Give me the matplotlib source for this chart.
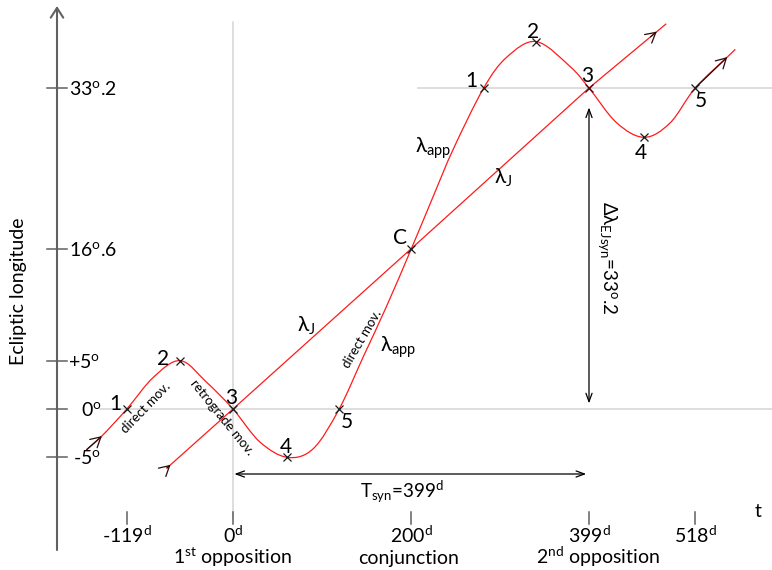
import numpy as np
import matplotlib
matplotlib.use("Agg")
import matplotlib.pyplot as plt
import matplotlib.transforms as mtransforms
from matplotlib.path import Path
from matplotlib.patches import PathPatch

# days counted from the 1st opposition, ecliptic longitude in degrees
t_app = [-164, -147, -119, -89, -59, -30, 0, 30, 61, 90, 119, 146, 172, 200,
         224, 247, 281, 307, 340, 378, 399, 430, 461, 490, 518, 554, 563]
lam_app = [-4.2, -2.8, 0, 3.3, 5.0, 2.8, 0, -3.4, -5.0, -4.1, 0, 5.4, 10.6, 16.6,
           21.9, 26.9, 33.2, 36.4, 38.0, 35.4, 33.2, 29.6, 28.1, 29.6, 33.2, 36.4, 37.2]

t_J = [-74, 0, 200, 399, 485]
lam_J = [-6.1, 0, 16.6, 33.2, 39.8]

# marked positions 1..5, C, 1..5
t_pts = [-119, -59, 0, 61, 119, 200, 281, 340, 399, 461, 518]
lam_pts = [0, 5.0, 0, -5.0, 0, 16.6, 33.2, 38.0, 33.2, 28.1, 33.2]
pt_labels = ['1', '2', '3', '4', '5', 'C', '1', '2', '3', '4', '5']
pt_offsets = [(-11, -1), (-17, -4), (-2, 5), (-2, 4), (8, -19), (-11, 5),
              (-12, 1), (-3, 4), (-2, 6), (-3, -22), (6, -19)]

x_ticks = [-119, 0, 200, 399, 518]
x_ticklabels = ['-119$^{\\rm d}$', '0$^{\\rm d}$', '200$^{\\rm d}$', '399$^{\\rm d}$', '518$^{\\rm d}$']
events = [(0, '1$^{\\rm st}$ opposition', 0), (200, 'conjunction', -3), (399, '2$^{\\rm nd}$ opposition', 9)]

y_ticks = [33.2, 16.6, 5, 0, -5]
y_ticklabels = ['33$^{\\rm o}$.2', '16$^{\\rm o}$.6', '+5$^{\\rm o}$', '0$^{\\rm o}$', '-5$^{\\rm o}$']
y_label_dx = [12, 12, 11, 24, 16]

T_SYN = 399
D_LAM = 33.2

plt.rcParams['font.family'] = ['Lato', 'DejaVu Sans']
plt.rcParams['mathtext.fontset'] = 'custom'
plt.rcParams['mathtext.rm'] = 'Lato'
plt.rcParams['mathtext.it'] = 'Lato:italic'
plt.rcParams['mathtext.bf'] = 'Lato:bold'

W, H = 772, 570
X0, Y0 = 233, 409                     # pixel of (0 d, 0 deg)
PX_DAY = 356 / 399
PX_DEG = 321 / 33.2
T_AXIS = (57 - X0) / PX_DAY           # where the longitude axis sits
L_AXIS = (Y0 - 518) / PX_DEG          # where the time axis sits

fig = plt.figure(figsize=(W / 100, H / 100), dpi=100)
ax = fig.add_axes([0, 0, 1, 1])
ax.set_xlim(-X0 / PX_DAY, (W - X0) / PX_DAY)
ax.set_ylim((Y0 - H) / PX_DEG, Y0 / PX_DEG)
ax.axis('off')

# pixel coords (top-left origin) for free text
PXT = mtransforms.Affine2D().scale(1 / 100, -1 / 100).translate(0, H / 100) + fig.dpi_scale_trans

axis_col = '#616161'
grid_col = '#d4d4d4'
red = '#ff1a1a'

# light guide lines
ax.plot([0, 0], [L_AXIS, (Y0 - 22) / PX_DEG], color=grid_col, lw=1.1, zorder=1)
ax.plot([(100 - X0) / PX_DAY, 700], [0, 0], color=grid_col, lw=1.1, zorder=1)
ax.plot([(418 - X0) / PX_DAY, 700], [D_LAM, D_LAM], color=grid_col, lw=1.1, zorder=1)

# axes with arrows
ax.annotate('', xy=(T_AXIS, (Y0 - 6) / PX_DEG), xytext=(T_AXIS, (Y0 - 550) / PX_DEG),
            arrowprops=dict(arrowstyle='->, head_length=0.7, head_width=0.45', color=axis_col,
                            lw=1.5, shrinkA=0, shrinkB=0, mutation_scale=10))
ax.annotate('', xy=((777 - X0) / PX_DAY, L_AXIS), xytext=((33 - X0) / PX_DAY, L_AXIS),
            arrowprops=dict(arrowstyle='->, head_length=0.7, head_width=0.45', color=axis_col,
                            lw=1.5, shrinkA=0, shrinkB=0, mutation_scale=10))
for t in x_ticks:
    ax.plot([t, t], [L_AXIS - 0.6, L_AXIS + 0.65], color=axis_col, lw=1.1)
for lam in y_ticks:
    ax.plot([T_AXIS - 11, T_AXIS + 11], [lam, lam], color=axis_col, lw=1.1)

for t, s in zip(x_ticks, x_ticklabels):
    ax.annotate(s, xy=(t, L_AXIS), xytext=(0, -25), textcoords='offset pixels',
                ha='center', va='baseline', fontsize=14)
for t, s, dx in events:
    ax.annotate(s, xy=(t, L_AXIS), xytext=(dx, -46), textcoords='offset pixels',
                ha='center', va='baseline', fontsize=14)
for lam, s, dx in zip(y_ticks, y_ticklabels, y_label_dx):
    ax.annotate(s, xy=(T_AXIS, lam), xytext=(dx, -7), textcoords='offset pixels',
                ha='left', va='baseline', fontsize=14)

ax.text(758, 517, 't', transform=PXT, ha='center', va='baseline', fontsize=14)
ax.text(19, 291, 'Ecliptic longitude', transform=PXT, rotation=90,
        ha='center', va='center', fontsize=14)


def smooth_path(xs, ys):
    pts = np.column_stack([xs, ys]).astype(float)
    n = len(pts)
    verts, codes = [pts[0]], [Path.MOVETO]
    for i in range(n - 1):
        p0, p1 = pts[max(i - 1, 0)], pts[i]
        p2, p3 = pts[i + 1], pts[min(i + 2, n - 1)]
        verts += [p1 + (p2 - p0) / 6, p2 - (p3 - p1) / 6, p2]
        codes += [Path.CURVE4] * 3
    return Path(verts, codes)


ax.add_patch(PathPatch(smooth_path(t_app, lam_app), fill=False, edgecolor=red, lw=0.9, zorder=3))
ax.plot(t_J, lam_J, color=red, lw=0.9, zorder=3)
ax.plot(t_pts, lam_pts, 'x', color='#1a1a1a', ms=5.5, mew=0.9, zorder=4)

for t, lam, s, (dx, dy) in zip(t_pts, lam_pts, pt_labels, pt_offsets):
    ax.annotate(s, xy=(t, lam), xytext=(dx, dy), textcoords='offset pixels',
                ha='center', va='baseline', fontsize=15)

# direction arrows on the curves
arr = dict(arrowstyle='->, head_length=0.45, head_width=0.25', color='#2a0a0a', lw=0.9,
           shrinkA=0, shrinkB=0, mutation_scale=16)
ax.annotate('', xy=(t_app[1], lam_app[1]), xytext=(t_app[0], lam_app[0]), arrowprops=arr)
ax.annotate('', xy=(t_app[-2], lam_app[-2]), xytext=(t_app[-3], lam_app[-3]), arrowprops=arr)
ax.annotate('', xy=(t_J[0] + 4, np.interp(t_J[0] + 4, t_J, lam_J)),
            xytext=(t_J[0], lam_J[0]), arrowprops=arr)
ax.annotate('', xy=(475, np.interp(475, t_J, lam_J)),
            xytext=(468, np.interp(468, t_J, lam_J)), arrowprops=arr)

# synodic period and longitude span
dbl = dict(arrowstyle='<->, head_length=0.6, head_width=0.22', color='black', lw=0.9,
           mutation_scale=10)
lam_T = (Y0 - 474) / PX_DEG
ax.annotate('', xy=(T_SYN, lam_T), xytext=(0, lam_T),
            arrowprops=dict(dbl, shrinkA=1, shrinkB=2))
ax.annotate('', xy=(T_SYN, 0), xytext=(T_SYN, D_LAM),
            arrowprops=dict(dbl, shrinkA=14, shrinkB=4))
ax.text(360, 498, 'T$_{\\rm syn}$=399$^{\\rm d}$', transform=PXT, ha='left', va='baseline', fontsize=13.5)
ax.text(607, 258, '\u0394\u03bb$_{\\rm EJsyn}$=33$^{\\rm o}$.2', transform=PXT, rotation=270,
        ha='center', va='center', fontsize=13.5)

# curve names
for s, x, y in [('\u03bb$_{\\rm app}$', 415, 153), ('\u03bb$_{\\rm J}$', 494, 184),
                ('\u03bb$_{\\rm app}$', 380, 352), ('\u03bb$_{\\rm J}$', 297, 332)]:
    ax.text(x, y, s, transform=PXT, ha='left', va='baseline', fontsize=15)

# motion notes
for s, x, y, rot in [('direct mov.', 146, 408, 46), ('retrograde mov.', 222, 417, -51),
                     ('direct mov.', 362, 339, 59.5)]:
    ax.text(x, y, s, transform=PXT, rotation=rot, ha='center', va='center', fontsize=9.5)

fig.savefig('out.png', dpi=100)
